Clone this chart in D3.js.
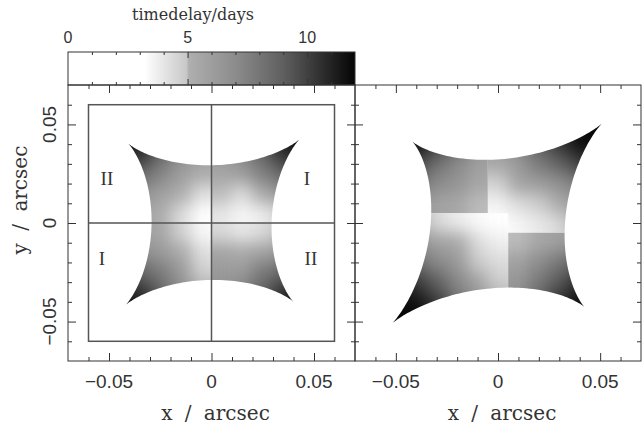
<!DOCTYPE html>
<html>
<head>
<meta charset="utf-8">
<title>timedelay</title>
<script src="https://cdnjs.cloudflare.com/ajax/libs/d3/7.8.5/d3.min.js"></script>
<style>
  body { margin: 0; background: #fff; }
  svg { display: block; }
  .frame { fill: none; stroke: #333; stroke-width: 1; }
  .tk line { stroke: #333; stroke-width: 1; }
  .tk path { stroke: none; }
  .num { font-family: "Liberation Sans", Arial, sans-serif; fill: #333; }
  .lab { font-family: "DejaVu Serif", serif; fill: #333; }
</style>
</head>
<body>
<svg width="642" height="432"></svg>
<script>
// colour bar: delay in days -> grey level
var barDays = [0, 3.2, 4.95, 5.05, 7, 9, 12];
var barGrey = [255, 255, 200, 175, 140, 95, 5];
var barLabels = [0, 5, 10];
var barMinor = [1, 2, 3, 4, 6, 7, 8, 9, 11];
var barMajor = [5, 10];

// axis ticks (arcsec)
var axisLabels = [-0.05, 0, 0.05];
var axisMinor = [-0.06, -0.04, -0.03, -0.02, -0.01, 0.01, 0.02, 0.03, 0.04, 0.06];

// caustic cusps [x, y], order TR, TL, BL, BR
var cuspsLeft = [[0.043, 0.0425], [-0.0407, 0.0404], [-0.042, -0.0417], [0.040, -0.040]];
var cuspsRight = [[0.051, 0.0506], [-0.042, 0.0414], [-0.052, -0.0511], [0.0424, -0.0427]];

// seams between image pairings: [top x, bottom x, left y, right y]
var seamsLeft = [0, 0, 0, 0];
var seamsRight = [-0.005, 0.005, 0.005, -0.005];

// time delay (days) in 0.01" cells, row = steps away from the horizontal seam,
// column = steps away from the vertical seam
var delayLeftTR = [
  [4.0, 3.5, 3.8, 4.8, 5.8, 6.8],
  [5.0, 4.3, 5.3, 6.5, 7.5, 8.3],
  [5.6, 6.0, 7.5, 8.7, 9.7, 10.5],
  [6.2, 7.2, 8.7, 10.5, 11.3, 11.8],
  [7.0, 8.2, 10.0, 11.5, 12.0, 12.0],
  [7.5, 8.7, 11.0, 12.0, 12.0, 12.0]];
var delayLeftTL = [
  [3.0, 4.3, 5.2, 5.7, 6.5, 7.2],
  [4.2, 5.1, 5.9, 6.7, 7.7, 8.7],
  [5.2, 6.0, 7.3, 8.5, 9.5, 10.5],
  [5.8, 6.9, 8.5, 10.5, 11.3, 11.8],
  [6.6, 7.7, 9.6, 11.4, 12.0, 12.0],
  [7.0, 8.2, 10.6, 11.8, 12.0, 12.0]];
var delayLeftBL = [
  [3.4, 4.6, 5.5, 5.9, 6.5, 7.2],
  [4.2, 5.3, 6.2, 6.9, 7.7, 8.7],
  [4.7, 6.2, 7.7, 8.7, 9.7, 10.5],
  [5.4, 6.9, 8.7, 10.5, 11.3, 11.8],
  [6.1, 7.7, 9.8, 11.6, 12.0, 12.0],
  [6.6, 8.2, 10.6, 12.0, 12.0, 12.0]];
var delayLeftBR = [
  [4.4, 3.9, 4.3, 5.0, 5.9, 6.7],
  [5.6, 5.3, 5.7, 6.5, 7.5, 8.2],
  [6.2, 6.2, 7.8, 8.7, 9.7, 10.5],
  [6.7, 7.5, 8.9, 10.5, 11.3, 11.8],
  [7.2, 8.2, 10.1, 11.6, 12.0, 12.0],
  [7.6, 8.7, 11.0, 12.0, 12.0, 12.0]];
var delayRightTR = [
  [2.5, 3.5, 3.9, 4.4, 5.2, 6.2],
  [3.6, 4.3, 4.8, 5.3, 6.2, 7.2],
  [4.6, 5.6, 6.0, 6.7, 7.7, 8.7],
  [5.4, 6.2, 7.7, 8.7, 9.9, 10.8],
  [6.1, 7.2, 8.9, 10.2, 11.5, 11.8],
  [6.6, 7.9, 9.7, 11.3, 12.0, 12.0]];
var delayRightTL = [
  [5.0, 5.5, 5.8, 6.5, 7.2, 7.7],
  [5.5, 6.5, 7.0, 8.2, 9.2, 10.0],
  [5.9, 7.1, 8.2, 9.7, 11.0, 11.8],
  [6.6, 8.5, 9.9, 11.5, 12.0, 12.0],
  [7.1, 9.2, 11.0, 12.0, 12.0, 12.0],
  [7.6, 9.7, 11.8, 12.0, 12.0, 12.0]];
var delayRightBL = [
  [2.5, 3.4, 3.8, 4.4, 5.2, 6.2],
  [3.7, 4.3, 5.4, 5.8, 6.7, 7.7],
  [4.3, 4.9, 6.2, 7.2, 8.2, 9.2],
  [4.8, 5.7, 7.2, 8.9, 10.2, 11.0],
  [5.4, 6.7, 8.2, 10.2, 11.5, 11.8],
  [6.1, 7.7, 9.2, 11.2, 12.0, 12.0]];
var delayRightBR = [
  [5.0, 5.5, 5.9, 6.5, 7.2, 7.7],
  [5.8, 6.9, 7.9, 8.9, 9.7, 10.2],
  [6.4, 7.9, 9.2, 10.7, 11.5, 11.8],
  [7.1, 8.9, 10.7, 11.7, 12.0, 12.0],
  [7.6, 9.7, 11.5, 12.0, 12.0, 12.0],
  [8.1, 10.2, 11.8, 12.0, 12.0, 12.0]];

// quadrant labels in the left panel
var romanText = ["II", "I", "I", "II"];
var romanPos = [[-0.051, 0.0226], [0.0466, 0.0226], [-0.0534, -0.0175], [0.0485, -0.0175]];

var svg = d3.select("svg");
var defs = svg.append("defs");

var grey = d3.scaleLinear().domain(barDays).range(barGrey).clamp(true);
function shade(v) { var g = Math.round(grey(v)); return d3.rgb(g, g, g).toString(); }

var f = defs.append("filter").attr("id", "soft")
  .attr("x", "-20%").attr("y", "-20%").attr("width", "140%").attr("height", "140%")
  .attr("color-interpolation-filters", "sRGB");
f.append("feGaussianBlur").attr("stdDeviation", 8);
f.append("feComponentTransfer").append("feFuncA").attr("type", "linear").attr("slope", 20);

var top0 = 85, bot0 = 361;
var y = d3.scaleLinear().domain([-0.07, 0.07]).range([bot0, top0]);
var xL = d3.scaleLinear().domain([-0.07, 0.07]).range([68, 355]);
var xR = d3.scaleLinear().domain([-0.07, 0.07]).range([355, 641]);

// ---- colour bar ----
var cx = d3.scaleLinear().domain([0, 12]).range([68, 355]);
var grad = defs.append("linearGradient").attr("id", "bar");
barDays.forEach(function(d, i) {
  grad.append("stop").attr("offset", d / 12).attr("stop-color", shade(d));
});
svg.append("rect").attr("x", cx(0)).attr("y", 52).attr("width", cx(12) - cx(0)).attr("height", top0 - 52)
  .attr("fill", "url(#bar)");
svg.append("rect").attr("class", "frame").attr("x", cx(0)).attr("y", 52).attr("width", cx(12) - cx(0)).attr("height", top0 - 52);
[[barMinor, 3], [barMajor, 6]].forEach(function(t) {
  svg.append("g").attr("class", "tk").attr("transform", "translate(0,52)")
    .call(d3.axisTop(cx).tickValues(t[0]).tickSize(-t[1]).tickSizeOuter(0).tickFormat(""));
  svg.append("g").attr("class", "tk").attr("transform", "translate(0," + top0 + ")")
    .call(d3.axisBottom(cx).tickValues(t[0]).tickSize(-t[1]).tickSizeOuter(0).tickFormat(""));
});
svg.selectAll(".barlab").data(barLabels).enter().append("text")
  .attr("class", "num").attr("font-size", 16).attr("text-anchor", "middle")
  .attr("x", function(d) { return cx(d); }).attr("y", 43).text(function(d) { return d; });
svg.append("text").attr("class", "lab").attr("font-size", 16).attr("text-anchor", "middle")
  .attr("x", 193).attr("y", 20).text("timedelay/days");

// ---- panels ----
function causticPts(c) {
  var pts = [];
  for (var k = 0; k < 4; k++) {
    var a = c[k], b = c[(k + 1) % 4];
    for (var s = 0; s < 80; s++) {
      var t = s / 80 * Math.PI / 2;
      var cc = Math.pow(Math.cos(t), 3), ss = Math.pow(Math.sin(t), 3);
      pts.push([a[0] * cc + b[0] * ss, a[1] * cc + b[1] * ss]);
    }
  }
  return pts;
}

function drawPanel(id, x, cusps, seams, grids) {
  var line = d3.line().x(function(d) { return x(d[0]); }).y(function(d) { return y(d[1]); })
    .curve(d3.curveLinearClosed);
  defs.append("clipPath").attr("id", "caus" + id).append("path").attr("d", line(causticPts(cusps)));

  // TR, TL, BL, BR
  var corners = [[seams[0], seams[3]], [seams[0], seams[2]], [seams[1], seams[2]], [seams[1], seams[3]]];
  var dirs = [[1, 1], [-1, 1], [-1, -1], [1, -1]];
  var gc = svg.append("g").attr("clip-path", "url(#caus" + id + ")");
  grids.forEach(function(grid, q) {
    var c = corners[q], d = dirs[q];
    var qx0 = x(c[0]), qx1 = x(d[0] > 0 ? 0.075 : -0.075);
    var qy0 = y(c[1]), qy1 = y(d[1] > 0 ? 0.075 : -0.075);
    defs.append("clipPath").attr("id", "q" + id + q).append("rect")
      .attr("x", Math.min(qx0, qx1)).attr("y", Math.min(qy0, qy1))
      .attr("width", Math.abs(qx1 - qx0)).attr("height", Math.abs(qy1 - qy0));
    var cells = [];
    grid.forEach(function(row, j) {
      row.forEach(function(v, i) { cells.push({ i: i, j: j, v: v }); });
    });
    gc.append("g").attr("clip-path", "url(#q" + id + q + ")")
      .append("g").attr("filter", "url(#soft)")
      .selectAll("rect").data(cells).enter().append("rect")
      .attr("shape-rendering", "crispEdges")
      .attr("x", function(e) { var a = x(c[0] + d[0] * 0.01 * e.i), b = x(c[0] + d[0] * 0.01 * (e.i + 1)); return Math.min(a, b) - 0.5; })
      .attr("width", function(e) { return Math.abs(x(c[0] + 0.01) - x(c[0])) + 1; })
      .attr("y", function(e) { var a = y(c[1] + d[1] * 0.01 * e.j), b = y(c[1] + d[1] * 0.01 * (e.j + 1)); return Math.min(a, b) - 0.5; })
      .attr("height", function(e) { return Math.abs(y(c[1] + 0.01) - y(c[1])) + 1; })
      .attr("fill", function(e) { return shade(e.v); });
  });

  // frame and inward ticks on all four sides
  var x0 = x.range()[0], x1 = x.range()[1];
  svg.append("rect").attr("class", "frame").attr("x", x0).attr("y", top0).attr("width", x1 - x0).attr("height", bot0 - top0);
  [[axisMinor, 4], [axisLabels, 8]].forEach(function(t) {
    svg.append("g").attr("class", "tk").attr("transform", "translate(0," + top0 + ")")
      .call(d3.axisTop(x).tickValues(t[0]).tickSize(-t[1]).tickSizeOuter(0).tickFormat(""));
    svg.append("g").attr("class", "tk").attr("transform", "translate(0," + bot0 + ")")
      .call(d3.axisBottom(x).tickValues(t[0]).tickSize(-t[1]).tickSizeOuter(0).tickFormat(""));
    svg.append("g").attr("class", "tk").attr("transform", "translate(" + x0 + ",0)")
      .call(d3.axisLeft(y).tickValues(t[0]).tickSize(-t[1]).tickSizeOuter(0).tickFormat(""));
    svg.append("g").attr("class", "tk").attr("transform", "translate(" + x1 + ",0)")
      .call(d3.axisRight(y).tickValues(t[0]).tickSize(-t[1]).tickSizeOuter(0).tickFormat(""));
  });
  svg.selectAll(".xl" + id).data(axisLabels).enter().append("text")
    .attr("class", "num").attr("font-size", 19).attr("text-anchor", "middle")
    .attr("x", function(v) { return x(v); }).attr("y", 388)
    .text(function(v) { return v === 0 ? "0" : d3.format(".2f")(v); });
  svg.append("text").attr("class", "lab").attr("font-size", 20).attr("word-spacing", 6)
    .attr("text-anchor", "middle").attr("x", (x0 + x1) / 2 + 4).attr("y", 420).text("x / arcsec");
}

drawPanel("L", xL, cuspsLeft, seamsLeft, [delayLeftTR, delayLeftTL, delayLeftBL, delayLeftBR]);
drawPanel("R", xR, cuspsRight, seamsRight, [delayRightTR, delayRightTL, delayRightBL, delayRightBR]);

// inner box with the axes in the left panel
var box = svg.append("g").attr("stroke", "#555").attr("stroke-width", 1.5).attr("fill", "none");
box.append("rect").attr("x", xL(-0.06)).attr("y", y(0.06)).attr("width", xL(0.06) - xL(-0.06)).attr("height", y(-0.06) - y(0.06));
box.append("line").attr("x1", xL(0)).attr("x2", xL(0)).attr("y1", y(0.06)).attr("y2", y(-0.06));
box.append("line").attr("x1", xL(-0.06)).attr("x2", xL(0.06)).attr("y1", y(0)).attr("y2", y(0));
svg.selectAll(".roman").data(romanText).enter().append("text")
  .attr("font-family", "Liberation Serif, serif").attr("font-size", 19).attr("fill", "#333")
  .attr("text-anchor", "middle")
  .attr("x", function(d, i) { return xL(romanPos[i][0]); })
  .attr("y", function(d, i) { return y(romanPos[i][1]) + 7; })
  .text(function(d) { return d; });

// y axis labels (rotated)
svg.selectAll(".yl").data(axisLabels).enter().append("text")
  .attr("class", "num").attr("font-size", 19).attr("text-anchor", "middle")
  .attr("transform", function(v) { return "translate(56," + y(v) + ") rotate(-90)"; })
  .text(function(v) { return v === 0 ? "0" : d3.format(".2f")(v); });
svg.append("text").attr("class", "lab").attr("font-size", 20).attr("word-spacing", 6)
  .attr("text-anchor", "middle").attr("transform", "translate(27,200) rotate(-90)").text("y / arcsec");
</script>
</body>
</html>
